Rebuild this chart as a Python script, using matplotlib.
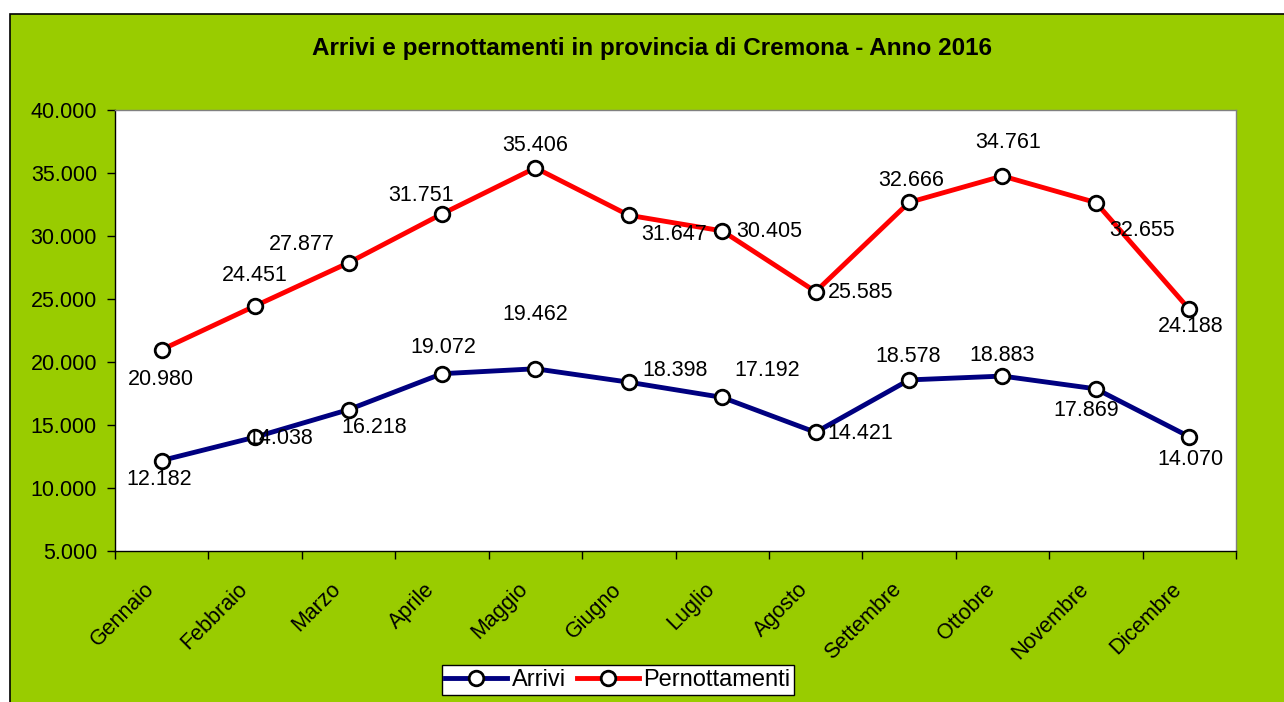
import matplotlib
matplotlib.use("Agg")
import matplotlib.pyplot as plt
from matplotlib.patches import Rectangle
from matplotlib.ticker import FuncFormatter, FixedLocator
from matplotlib.transforms import ScaledTranslation

months = ["Gennaio", "Febbraio", "Marzo", "Aprile", "Maggio", "Giugno",
          "Luglio", "Agosto", "Settembre", "Ottobre", "Novembre", "Dicembre"]
arrivi = [12182, 14038, 16218, 19072, 19462, 18398, 17192, 14421, 18578, 18883, 17869, 14070]
pernott = [20980, 24451, 27877, 31751, 35406, 31647, 30405, 25585, 32666, 34761, 32655, 24188]

# label offsets in pixels (dx, dy) relative to point
arr_off = [(-3, -19), (25, -1), (26, -18), (1, 26), (0, 54), (46, 12), (45, 27), (45, -1),
           (-1, 23), (0, 21), (-10, -22), (1, -23)]
per_off = [(-1, -30), (0, 30), (-47, 18), (-21, 18), (0, 22), (45, -19), (47, -1), (45, -1),
           (2, 22), (6, 34), (46, -28), (1, -17)]

plt.rcParams['font.family'] = ['Liberation Sans', 'DejaVu Sans']
FS = 15.5
GREEN = "#99CC00"

fig = plt.figure(figsize=(12.84, 7.02), dpi=100)
fig.patch.set_facecolor("white")
fig.patches.append(Rectangle((10 / 1284, -0.01), 1.1, (702 - 14) / 702 + 0.01,
                             transform=fig.transFigure, facecolor=GREEN,
                             edgecolor="black", linewidth=1.2, zorder=-10))

ax = fig.add_axes([115 / 1284, (702 - 551) / 702, (1236 - 115) / 1284, (551 - 110) / 702])
ax.set_facecolor("white")
x = list(range(len(months)))

ax.plot(x, arrivi, color="#000080", lw=3.5, marker="o", ms=10.5, mfc="white",
        mec="black", mew=2, label="Arrivi", zorder=3)
ax.plot(x, pernott, color="#FF0000", lw=3.5, marker="o", ms=10.5, mfc="white",
        mec="black", mew=2, label="Pernottamenti", zorder=3)

def fmt(v):
    return f"{v:,.0f}".replace(",", ".")

for xi, v, (dx, dy) in zip(x, arrivi, arr_off):
    ax.annotate(fmt(v), (xi, v), xytext=(dx * 0.72, dy * 0.72), textcoords="offset points",
                ha="center", va="center", fontsize=FS, color="black", zorder=4)
for xi, v, (dx, dy) in zip(x, pernott, per_off):
    ax.annotate(fmt(v), (xi, v), xytext=(dx * 0.72, dy * 0.72), textcoords="offset points",
                ha="center", va="center", fontsize=FS, color="black", zorder=4)

ax.set_xlim(-0.5, len(months) - 0.5)
ax.set_ylim(5000, 40000)
ax.set_yticks(range(5000, 40001, 5000))
ax.yaxis.set_major_formatter(FuncFormatter(lambda v, p: fmt(v)))
ax.xaxis.set_major_locator(FixedLocator([i - 0.5 for i in range(len(months) + 1)]))
ax.xaxis.set_major_formatter(FuncFormatter(lambda v, p: ""))
ax.set_xticks(x, minor=True)
ax.set_xticklabels(months, minor=True, rotation=45, ha="right", va="top",
                   rotation_mode="anchor", fontsize=FS)
ax.tick_params(axis="x", which="minor", length=0, pad=20)
ax.tick_params(axis="x", which="major", length=6, width=1, direction="out")
ax.tick_params(axis="y", length=6, width=1, direction="out", labelsize=FS, pad=7)
off = ScaledTranslation(-18 / 100, 0, fig.dpi_scale_trans)
for lab in ax.get_xticklabels(minor=True):
    lab.set_transform(lab.get_transform() + off)
for s in ax.spines.values():
    s.set_color("black")
    s.set_linewidth(1)
ax.spines["top"].set_color("#808080")
ax.spines["right"].set_color("#808080")

fig.text(652 / 1284, 1 - 48 / 702, "Arrivi e pernottamenti in provincia di Cremona - Anno 2016",
         ha="center", va="center", fontsize=17.5, fontweight="bold")

leg = fig.legend(loc="center", bbox_to_anchor=(618 / 1284, 1 - 680 / 702), ncol=2,
                 fontsize=17, frameon=True, fancybox=False, edgecolor="black",
                 framealpha=1, borderpad=0.15, handlelength=2.6, columnspacing=0.5,
                 handletextpad=0.2, borderaxespad=0)
leg.get_frame().set_linewidth(1)
leg.get_frame().set_facecolor("white")

fig.savefig("out.png", dpi=100, facecolor=fig.get_facecolor())
